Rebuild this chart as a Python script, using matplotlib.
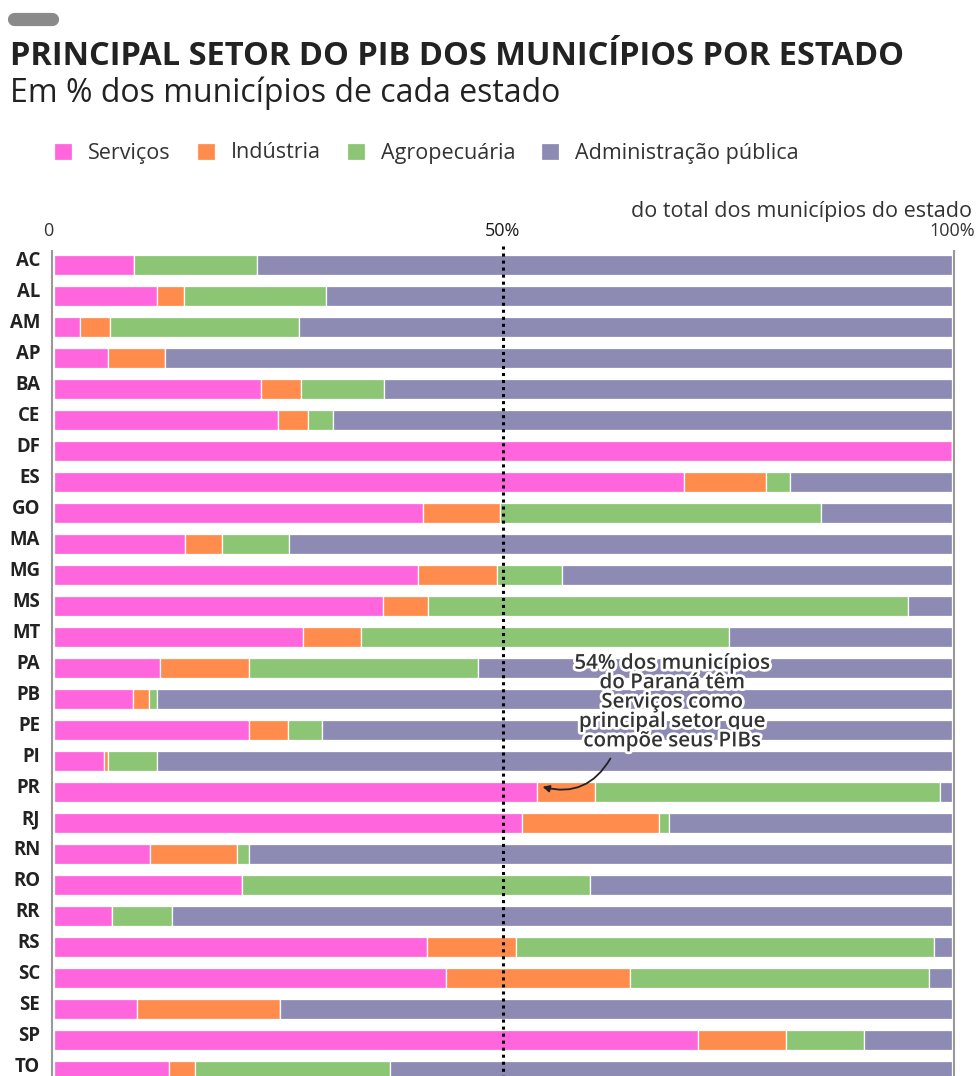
import matplotlib.pyplot as plt
import matplotlib.patheffects as pe
from matplotlib.lines import Line2D
from matplotlib.transforms import ScaledTranslation
import numpy as np

states = ['AC', 'AL', 'AM', 'AP', 'BA', 'CE', 'DF', 'ES', 'GO', 'MA', 'MG', 'MS', 'MT', 'PA',
          'PB', 'PE', 'PI', 'PR', 'RJ', 'RN', 'RO', 'RR', 'RS', 'SC', 'SE', 'SP', 'TO']
servicos = [8.9, 11.5, 2.9, 6.1, 23.1, 25.0, 100, 70.1, 41.1, 14.6, 40.5, 36.6, 27.7, 11.8,
            8.8, 21.7, 5.6, 53.8, 52.1, 10.7, 21.0, 6.5, 41.5, 43.7, 9.3, 71.7, 12.8]
industria = [0, 3.0, 3.4, 6.3, 4.4, 3.3, 0, 9.2, 8.6, 4.1, 8.8, 5.1, 6.5, 9.9,
             1.8, 4.4, 0.5, 6.4, 15.3, 9.7, 0, 0, 9.9, 20.4, 15.9, 9.8, 2.9]
agro = [13.7, 15.8, 21.0, 0, 9.3, 2.8, 0, 2.6, 35.7, 7.5, 7.3, 53.4, 40.9, 25.5,
        0.9, 3.8, 5.4, 38.4, 1.1, 1.3, 38.7, 6.7, 46.5, 33.3, 0, 8.7, 21.7]
adm = [77.4, 69.7, 72.7, 87.6, 63.2, 68.9, 0, 18.1, 14.6, 73.8, 43.4, 4.9, 24.9, 52.8,
       88.5, 70.1, 88.5, 1.4, 31.5, 78.3, 40.3, 86.8, 2.1, 2.6, 74.8, 9.8, 62.6]

sectors = ['Serviços', 'Indústria', 'Agropecuária', 'Administração pública']
colors = ['#ff66dd', '#ff8c4c', '#8cc574', '#8d8bb4']
series = [servicos, industria, agro, adm]

fig = plt.figure(figsize=(9.76, 10.76), dpi=100)
ax = fig.add_axes([52 / 976, 0, 902 / 976, (1076 - 251) / 1076])

y = np.arange(len(states))
left = np.zeros(len(states))
bars = []
for vals, col, name in zip(series, colors, sectors):
    b = ax.barh(y, vals, left=left, height=0.62, color=col, edgecolor='white',
                linewidth=0.9, label=name)
    bars.append(b)
    left = left + np.array(vals)

ax.set_xlim(-0.17, 100.17)
ax.set_ylim(26.16, -0.45)

# linha pontilhada dos 50%
ax.plot([50, 50], [-0.6, 26.5], color='black', lw=2.2, ls=(0, (1, 1.3)), clip_on=False, zorder=5)

for s in ['top', 'bottom']:
    ax.spines[s].set_visible(False)
for s in ['left', 'right']:
    ax.spines[s].set_color('#999999')
    ax.spines[s].set_linewidth(1.5)

ax.set_yticks(y)
ax.set_yticklabels(states, fontsize=13.4, fontweight='bold', color='#222222', family='Open Sans')
ax.tick_params(axis='y', length=0, pad=8.5)
up = ScaledTranslation(0, 6.5 / 100, fig.dpi_scale_trans)
for lab in ax.get_yticklabels():
    lab.set_transform(lab.get_transform() + up)

ax.xaxis.tick_top()
ax.set_xticks([0, 50, 100])
ax.set_xticklabels(['0', '50%', '100%'], fontsize=13, family='Open Sans', color='#333333')
ax.tick_params(axis='x', length=0, pad=8)
tl = ax.get_xticklabels()
tl[0].set_ha('right')
tl[1].set_color('#1a1a1a')

fig.text(972 / 976, 1 - 216.5 / 1076, 'do total dos municípios do estado', ha='right', va='baseline',
         fontsize=15.5, color='#333333', family='Open Sans')

# anotação do Paraná
ax.text(68.8, 14.1, '54% dos municípios\ndo Paraná têm\nServiços como\nprincipal setor que\ncompõe seus PIBs',
        ha='center', va='center', fontsize=14.8, color='#333333', family='Open Sans',
        fontweight='semibold', linespacing=0.9, zorder=6,
        path_effects=[pe.withStroke(linewidth=4, foreground='white')])
ax.annotate('', xy=(servicos[17] + 0.3, 16.81), xytext=(62.1, 15.84),
            arrowprops=dict(arrowstyle='-|>', color='#222222', lw=1.3, mutation_scale=10,
                            connectionstyle='arc3,rad=-0.4'), zorder=6)

# cabeçalho
fig.add_artist(Line2D([14 / 976, 52 / 976], [1 - 18.5 / 1076] * 2, lw=9.5, color='#8a8a8a',
                      solid_capstyle='round'))
fig.text(10 / 976, 1 - 65 / 1076, 'PRINCIPAL SETOR DO PIB DOS MUNICÍPIOS POR ESTADO', ha='left',
         va='baseline', fontsize=23.5, fontweight='bold', color='#222222', family='Open Sans')
fig.text(10 / 976, 1 - 102 / 1076, 'Em % dos municípios de cada estado', ha='left', va='baseline',
         fontsize=23, color='#222222', family='Open Sans')

fig.legend(handles=bars, labels=sectors, loc='center left', bbox_to_anchor=(34.6 / 976, 1 - 153 / 1076),
           ncol=4, frameon=False, handlelength=0.84, handleheight=0.84,
           handletextpad=0.74, columnspacing=1.21, prop={'family': 'Open Sans', 'size': 15.5},
           labelcolor='#333333')

fig.savefig('out.png', dpi=100)
